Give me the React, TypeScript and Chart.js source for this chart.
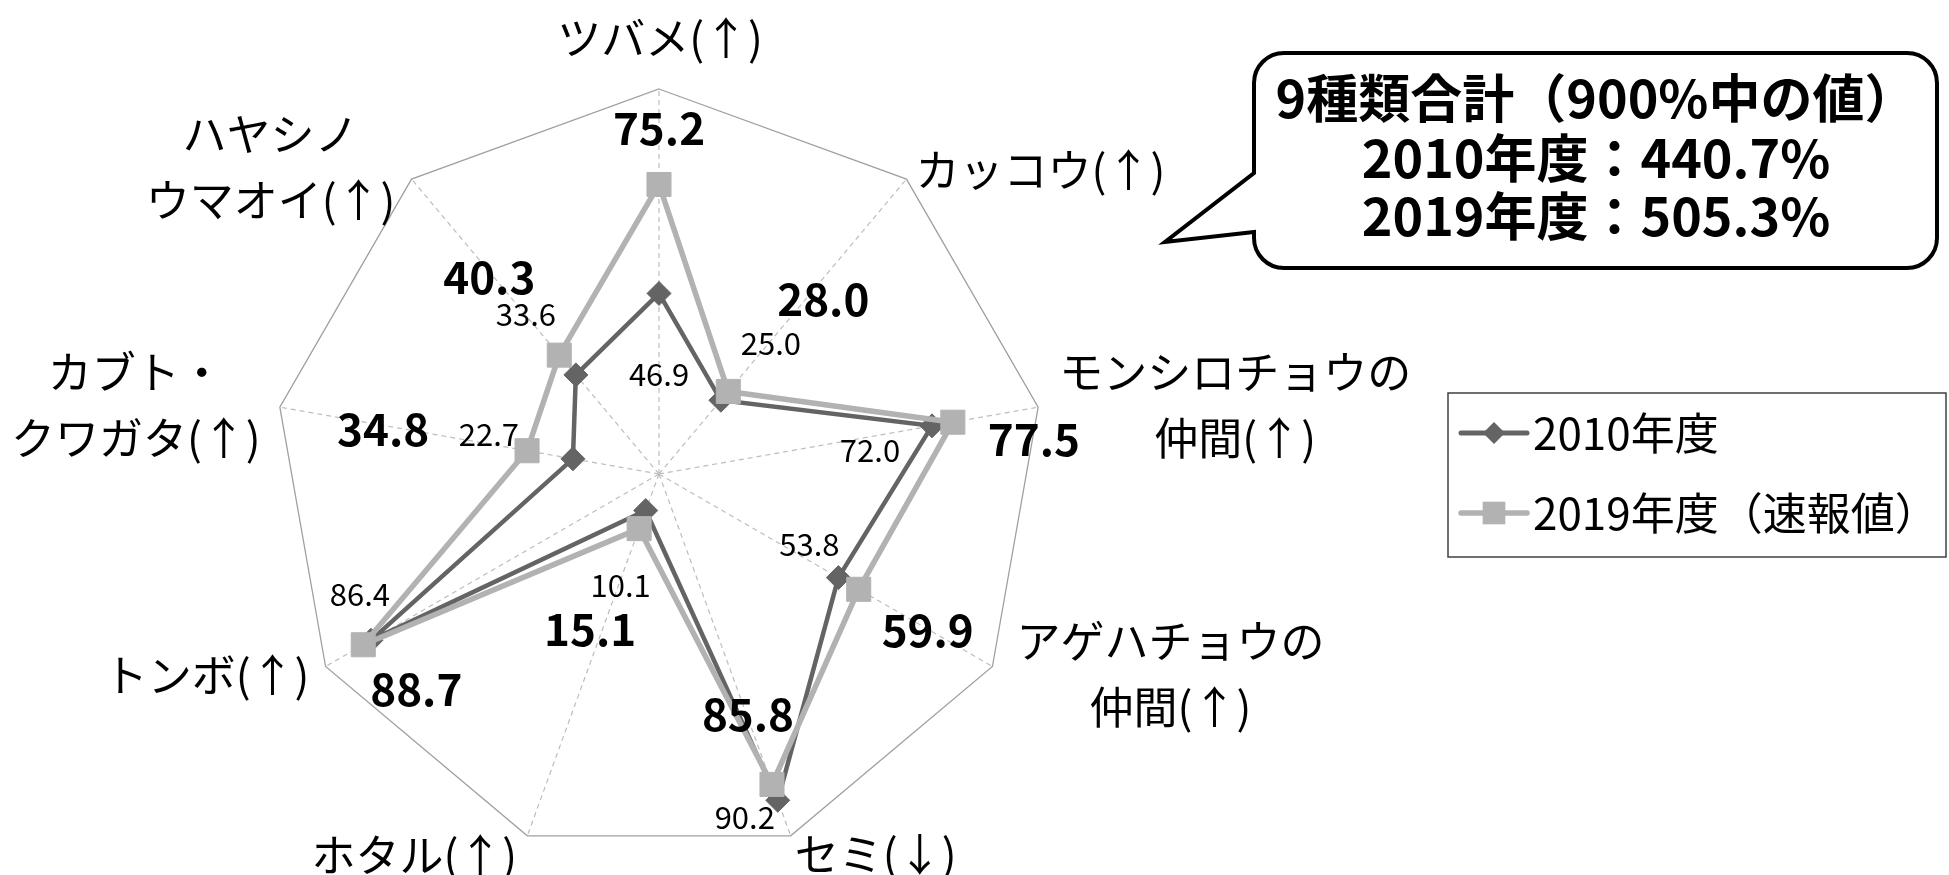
import React, { useEffect, useRef } from "react";
import { Chart, registerables } from "chart.js";

Chart.register(...registerables);

// ---- data ----
const categories: string[][] = [
  ["ツバメ(↑)"],
  ["カッコウ(↑)"],
  ["モンシロチョウの", "仲間(↑)"],
  ["アゲハチョウの", "仲間(↑)"],
  ["セミ(↓)"],
  ["ホタル(↑)"],
  ["トンボ(↑)"],
  ["カブト・", "クワガタ(↑)"],
  ["ハヤシノ", "ウマオイ(↑)"],
];
const values2010 = [46.9, 25.0, 72.0, 53.8, 90.2, 10.1, 86.4, 22.7, 33.6];
const values2019 = [75.2, 28.0, 77.5, 59.9, 85.8, 15.1, 88.7, 34.8, 40.3];
const seriesNames = ["2010年度", "2019年度（速報値）"];
const calloutTitle = "9種類合計（900%中の値）";
const scaleMin = 0;
const scaleMax = 100;

// ---- styles ----
const FONT = '"Noto Sans CJK JP", "Noto Sans", sans-serif';
const DARK = "#646464";
const LIGHT = "#b2b2b2";

// label block centre offsets from each outer vertex
const pointLabelOffsets = [
  [1, -51], [134, -9], [197, -2], [178, 8], [85, 18],
  [-113, 19], [-119, 9], [-144, -2], [-141, -12],
];
// value label offsets from each point
const offsets2010 = [
  [0, 81], [50, -57], [-62, 24], [-29, -33], [-33, 17],
  [-25, 75], [-11, -46], [-84, -25], [-50, -61],
];
const offsets2019 = [
  [0, -56], [95, -92], [81, 17], [69, 41], [-24, -70],
  [-49, 101], [53, 45], [-144, -21], [-70, -78],
];

const sum = (a: number[]) => a.reduce((s, v) => s + v, 0);

const overlayPlugin = {
  id: "overlay",
  afterDraw(chart: any) {
    const ctx: CanvasRenderingContext2D = chart.ctx;
    const scale = chart.scales.r;
    ctx.save();
    ctx.fillStyle = "#000";
    ctx.textAlign = "center";
    ctx.textBaseline = "middle";

    // point labels
    ctx.font = `44px ${FONT}`;
    const lineH = 66;
    categories.forEach((lines, i) => {
      const p = scale.getPointPosition(i, scale.drawingArea);
      const [dx, dy] = pointLabelOffsets[i];
      const cx = p.x + dx;
      const cy = p.y + dy;
      const top = cy - ((lines.length - 1) * lineH) / 2;
      lines.forEach((t, k) => ctx.fillText(t, cx, top + k * lineH));
    });

    // value labels
    const m2010 = chart.getDatasetMeta(0);
    const m2019 = chart.getDatasetMeta(1);
    ctx.font = `31px ${FONT}`;
    values2010.forEach((v, i) => {
      const el = m2010.data[i];
      ctx.fillText(v.toFixed(1), el.x + offsets2010[i][0], el.y + offsets2010[i][1]);
    });
    ctx.font = `bold 44px ${FONT}`;
    values2019.forEach((v, i) => {
      const el = m2019.data[i];
      ctx.fillText(v.toFixed(1), el.x + offsets2019[i][0], el.y + offsets2019[i][1]);
    });

    // legend
    const lx = 1448, ly = 393, lw = 498, lh = 164;
    ctx.strokeStyle = "#404040";
    ctx.lineWidth = 1.5;
    ctx.strokeRect(lx, ly, lw, lh);
    const items = [
      { name: seriesNames[0], color: DARK, style: "rectRot", r: 11, lw: 5, y: 433 },
      { name: seriesNames[1], color: LIGHT, style: "rect", r: 16, lw: 5.5, y: 513 },
    ];
    items.forEach((it) => {
      ctx.strokeStyle = it.color;
      ctx.lineWidth = it.lw;
      ctx.lineCap = "round";
      ctx.beginPath();
      ctx.moveTo(1461, it.y);
      ctx.lineTo(1527, it.y);
      ctx.stroke();
      ctx.fillStyle = it.color;
      ctx.beginPath();
      if (it.style === "rectRot") {
        ctx.moveTo(1494, it.y - it.r);
        ctx.lineTo(1494 + it.r, it.y);
        ctx.lineTo(1494, it.y + it.r);
        ctx.lineTo(1494 - it.r, it.y);
        ctx.closePath();
      } else {
        const s = it.r * Math.SQRT1_2;
        ctx.rect(1494 - s, it.y - s, 2 * s, 2 * s);
      }
      ctx.fill();
      ctx.fillStyle = "#000";
      ctx.textAlign = "left";
      ctx.font = `44px ${FONT}`;
      ctx.fillText(it.name, 1533, it.y);
    });

    // callout
    const bx = 1254, by = 53, bw = 683, bh = 215, rr = 30;
    const tipX = 1165, tipY = 242, a1 = 173, a2 = 232;
    ctx.beginPath();
    ctx.moveTo(bx + rr, by);
    ctx.lineTo(bx + bw - rr, by);
    ctx.arcTo(bx + bw, by, bx + bw, by + rr, rr);
    ctx.lineTo(bx + bw, by + bh - rr);
    ctx.arcTo(bx + bw, by + bh, bx + bw - rr, by + bh, rr);
    ctx.lineTo(bx + rr, by + bh);
    ctx.arcTo(bx, by + bh, bx, by + bh - rr, rr);
    ctx.lineTo(bx, a2);
    ctx.lineTo(tipX, tipY);
    ctx.lineTo(bx, a1);
    ctx.lineTo(bx, by + rr);
    ctx.arcTo(bx, by, bx + rr, by, rr);
    ctx.closePath();
    ctx.fillStyle = "#fff";
    ctx.fill();
    ctx.strokeStyle = "#000";
    ctx.lineWidth = 4;
    ctx.lineJoin = "miter";
    ctx.stroke();

    ctx.fillStyle = "#000";
    ctx.textAlign = "center";
    ctx.font = `bold 52px ${FONT}`;
    const lines = [
      calloutTitle,
      `${seriesNames[0]}：${sum(values2010).toFixed(1)}%`,
      `2019年度：${sum(values2019).toFixed(1)}%`,
    ];
    [98, 158, 216].forEach((y, k) => ctx.fillText(lines[k], 1596, y));
    ctx.restore();
  },
};

export default function App() {
  const ref = useRef<HTMLCanvasElement | null>(null);
  useEffect(() => {
    if (!ref.current) return;
    const chart = new Chart(ref.current, {
      type: "radar",
      data: {
        labels: categories,
        datasets: [
          {
            label: seriesNames[0],
            data: values2010,
            borderColor: DARK,
            backgroundColor: DARK,
            borderWidth: 4.5,
            pointStyle: "rectRot",
            pointRadius: 12,
            pointBackgroundColor: DARK,
            pointBorderColor: DARK,
            pointBorderWidth: 1,
            fill: false,
            order: 1,
          },
          {
            label: seriesNames[1],
            data: values2019,
            borderColor: LIGHT,
            backgroundColor: LIGHT,
            borderWidth: 5.5,
            pointStyle: "rect",
            pointRadius: 17,
            pointBackgroundColor: LIGHT,
            pointBorderColor: LIGHT,
            pointBorderWidth: 1,
            fill: false,
            order: 0,
          },
        ],
      },
      options: {
        responsive: false,
        devicePixelRatio: 1,
        animation: false,
        layout: { padding: { left: 274, top: 89, right: 905, bottom: 16 } },
        plugins: {
          legend: { display: false },
          tooltip: { enabled: false },
          title: { display: false },
        },
        elements: { line: { tension: 0 } },
        scales: {
          r: {
            min: scaleMin,
            max: scaleMax,
            ticks: { display: false, stepSize: 100 },
            pointLabels: { display: false },
            grid: { color: "#a0a0a0", lineWidth: 1.3 },
            angleLines: { color: "#bdbdbd", lineWidth: 1.2, borderDash: [5, 4] },
          },
        },
      },
      plugins: [overlayPlugin],
    });
    return () => chart.destroy();
  }, []);
  return (
    <div style={{ position: "absolute", left: 0, top: 0, width: 1949, height: 875, background: "#fff" }}>
      <canvas ref={ref} width={1949} height={875} style={{ display: "block" }} />
    </div>
  );
}
